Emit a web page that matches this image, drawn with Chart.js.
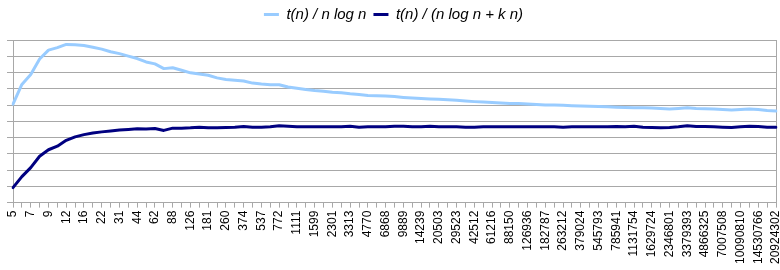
<!DOCTYPE html>
<html>
<head>
<meta charset="utf-8">
<script src="https://cdn.jsdelivr.net/npm/chart.js@4/dist/chart.umd.min.js"></script>
<style>
  html, body { margin: 0; padding: 0; background: #ffffff; }
  #wrap { width: 780px; height: 270px; }
</style>
</head>
<body>
<div id="wrap"><canvas id="c" width="780" height="270"></canvas></div>
<script>
const categories = ["5","6","7","8","9","10","12","14","16","19","22","26","31","37","44","52","62","74","88","105","126","151","181","217","260","312","374","448","537","644","772","926","1111","1333","1599","1918","2301","2761","3313","3975","4770","5724","6868","8241","9889","11866","14239","17086","20503","24603","29523","35427","42512","51014","61216","73459","88150","105780","126936","152323","182787","219344","263212","315854","379024","454828","545793","654951","785941","943129","1131754","1358104","1629724","1955668","2346801","2816161","3379393","4055271","4866325","5839590","7007508","8409009","10090810","12108972","14530766","17436919","20924302"];

const seriesNames = ["t(n) / n log n", "t(n) / (n log n + k n)"];

const ratioNLogN = [
  6.05,7.27,7.88,8.83,9.38,9.53,9.73,9.71,9.66,9.55,
  9.44,9.28,9.16,9.01,8.86,8.65,8.53,8.24,8.29,8.14,
  7.98,7.91,7.83,7.67,7.57,7.52,7.48,7.35,7.29,7.25,
  7.25,7.11,7.03,6.95,6.89,6.85,6.79,6.75,6.69,6.65,
  6.59,6.57,6.56,6.52,6.47,6.43,6.40,6.37,6.35,6.32,
  6.29,6.25,6.21,6.18,6.15,6.12,6.10,6.09,6.07,6.04,
  6.01,6.00,5.98,5.96,5.94,5.93,5.91,5.89,5.87,5.85,
  5.83,5.83,5.82,5.79,5.75,5.79,5.84,5.79,5.77,5.76,
  5.73,5.69,5.72,5.75,5.72,5.66,5.63
];

const ratioNLogNKN = [
  0.92,1.60,2.15,2.85,3.25,3.47,3.83,4.04,4.18,4.28,
  4.35,4.40,4.46,4.50,4.54,4.52,4.56,4.44,4.58,4.58,
  4.60,4.64,4.60,4.60,4.62,4.64,4.68,4.64,4.64,4.66,
  4.72,4.70,4.66,4.66,4.66,4.66,4.66,4.66,4.70,4.64,
  4.66,4.66,4.66,4.70,4.70,4.66,4.66,4.70,4.66,4.66,
  4.66,4.64,4.64,4.66,4.66,4.66,4.66,4.66,4.66,4.66,
  4.66,4.66,4.64,4.66,4.66,4.66,4.66,4.66,4.68,4.66,
  4.70,4.64,4.62,4.60,4.62,4.66,4.72,4.68,4.68,4.66,
  4.64,4.62,4.66,4.70,4.68,4.64,4.64
];

const yMin = 0, yMax = 10, yStep = 1;

const gridColor = '#a8a8a8';
const fontFamily = "'Liberation Sans', Arial, sans-serif";

const legendSpacer = {
  id: 'legendSpacer',
  beforeInit(chart) {
    const origFit = chart.legend.fit;
    chart.legend.fit = function () {
      origFit.call(this);
      this.height += 8;
    };
  }
};

new Chart(document.getElementById('c'), {
  type: 'line',
  data: {
    labels: categories,
    datasets: [
      {
        label: seriesNames[0],
        data: ratioNLogN,
        borderColor: '#99ccff',
        backgroundColor: '#99ccff',
        borderWidth: 3,
        pointRadius: 0,
        pointHoverRadius: 0,
        tension: 0,
        borderJoinStyle: 'round',
        borderCapStyle: 'round',
        fill: false
      },
      {
        label: seriesNames[1],
        data: ratioNLogNKN,
        borderColor: '#000080',
        backgroundColor: '#000080',
        borderWidth: 3,
        pointRadius: 0,
        pointHoverRadius: 0,
        tension: 0,
        borderJoinStyle: 'round',
        borderCapStyle: 'round',
        fill: false
      }
    ]
  },
  options: {
    responsive: false,
    animation: false,
    events: [],
    layout: { padding: { left: 7, right: 0, top: 0, bottom: 3 } },
    plugins: {
      legend: {
        display: true,
        position: 'top',
        labels: {
          usePointStyle: true,
          pointStyle: 'line',
          pointStyleWidth: 15,
          padding: 7,
          color: '#000000',
          font: { family: fontFamily, size: 15, style: 'italic' }
        }
      },
      tooltip: { enabled: false }
    },
    scales: {
      x: {
        type: 'category',
        offset: false,
        grid: {
          display: true,
          drawOnChartArea: false,
          drawTicks: true,
          tickLength: 5,
          color: gridColor,
          offset: false
        },
        border: { display: true, color: gridColor },
        ticks: {
          autoSkip: false,
          maxRotation: 90,
          minRotation: 90,
          padding: 3,
          color: '#000000',
          font: { family: fontFamily, size: 12 },
          callback: function (value, index) {
            return index % 2 === 0 ? categories[index] : '';
          }
        },
        afterFit: function (scale) {
          scale.paddingRight = 4;
        }
      },
      y: {
        min: yMin,
        max: yMax,
        grid: {
          display: true,
          drawOnChartArea: true,
          drawTicks: true,
          tickLength: 6,
          color: gridColor
        },
        border: { display: true, color: gridColor },
        ticks: { display: false, stepSize: yStep }
      },
      y2: {
        position: 'right',
        display: true,
        min: yMin,
        max: yMax,
        grid: { drawOnChartArea: false, drawTicks: false },
        border: { display: true, color: gridColor },
        ticks: { display: false }
      }
    }
  },
  plugins: [legendSpacer]
});
</script>
</body>
</html>
